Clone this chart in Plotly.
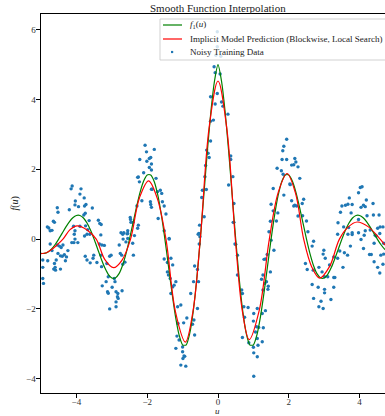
import plotly.graph_objects as go

# ---------------- data ----------------
U_TRUE = [round(-5 + 0.1 * i, 1) for i in range(101)]
F1_TRUE = [-0.411, -0.410, -0.367, -0.280, -0.155, 0.000, 0.171, 0.343, 0.496, 0.612,
           0.677, 0.677, 0.605, 0.462, 0.255, 0.000, -0.282, -0.564, -0.817, -1.009,
           -1.116, -1.116, -0.998, -0.762, -0.421, 0.000, 0.465, 0.931, 1.347, 1.664,
           1.839, 1.839, 1.645, 1.257, 0.694, 0.000, -0.767, -1.535, -2.220, -2.743,
           -3.033, -3.032, -2.711, -2.072, -1.145, 0.000, 1.265, 2.530, 3.660, 4.523,
           5.000,
           4.523, 3.660, 2.530, 1.265, 0.000, -1.145, -2.072, -2.711, -3.032, -3.033,
           -2.743, -2.220, -1.535, -0.767, 0.000, 0.694, 1.257, 1.645, 1.839, 1.839,
           1.664, 1.347, 0.931, 0.465, 0.000, -0.421, -0.762, -0.998, -1.116, -1.116,
           -1.009, -0.817, -0.564, -0.282, 0.000, 0.255, 0.462, 0.605, 0.677, 0.677,
           0.612, 0.496, 0.343, 0.171, 0.000, -0.155, -0.280, -0.367, -0.410, -0.411]

U_PRED = [-5.0, -4.85, -4.7, -4.55, -4.38, -4.18, -3.98, -3.71, -3.44, -3.2, -2.95, -2.71,
          -2.47, -2.22, -1.96, -1.72, -1.47, -1.2, -0.92, -0.71, -0.5, -0.25, 0.0, 0.245,
          0.49, 0.685, 0.88, 1.165, 1.45, 1.7, 1.95, 2.185, 2.42, 2.645, 2.87, 3.15, 3.43,
          3.68, 3.93, 4.25, 4.58, 4.75, 5.0]
Y_PRED = [-0.42, -0.39, -0.30, -0.17, 0.0, 0.27, 0.38, 0.27, 0.0, -0.58, -0.82, -0.6,
          0.0, 1.18, 1.67, 1.18, 0.0, -2.09, -2.95, -2.09, 0.0, 3.2, 4.53, 3.2,
          0.0, -2.04, -2.88, -2.04, 0.0, 1.33, 1.88, 1.33, 0.0, -0.79, -1.12, -0.79, 0.0,
          0.35, 0.49, 0.35, 0.0, -0.2, -0.38]

NOISY_PTS = [
    (-4.12, 1.52), (-4.15, 1.44), (-3.87, 1.44), (-3.90, 1.29), (-3.78, 1.18), (-4.03, 1.09),
    (-4.04, 0.98), (-3.73, 0.99), (-3.94, 0.93), (-3.77, 0.95), (-4.54, 0.90), (-4.20, 0.84),
    (-3.55, 0.89), (-4.52, 0.77), (-3.75, 0.74), (-3.79, 0.69), (-4.82, 0.35), (-4.78, 0.32),
    (-4.65, 0.51), (-4.62, 0.48), (-4.74, 0.24), (-4.69, 0.25), (-4.08, 0.37), (-3.90, 0.37),
    (-3.74, 0.38), (-4.04, 0.24), (-3.68, 0.27), (-4.06, 0.14), (-3.38, 0.54), (-3.34, 0.45),
    (-3.30, 0.42), (-3.64, 0.53), (-3.31, 0.12), (-2.74, 0.18), (-2.68, 0.0), (-2.57, 0.15),
    (-2.47, 0.56),
    (-4.04, 0.0), (-4.07, -0.10), (-4.13, -0.10), (-3.96, -0.10), (-3.77, 0.09), (-3.70, 0.14),
    (-3.62, 0.14), (-4.74, -0.14), (-4.54, -0.17), (-4.48, -0.20), (-4.38, -0.17), (-4.43, -0.24),
    (-4.95, -0.60), (-4.81, -0.62), (-4.95, -0.81), (-4.95, -1.13), (-4.93, -1.27), (-4.69, -0.33),
    (-4.52, -0.41), (-4.45, -0.48), (-4.57, -0.60), (-4.62, -0.70), (-4.60, -0.81), (-4.64, -0.86),
    (-4.59, -0.89), (-4.45, -0.86), (-4.40, -0.49), (-4.34, -0.45), (-4.28, -0.51), (-4.31, -0.62),
    (-4.24, -0.33), (-3.75, -0.49), (-3.70, -0.60), (-3.61, -0.68), (-3.51, -0.46), (-3.53, -0.55),
    (-3.42, -0.67), (-3.35, -0.14), (-3.28, -0.17), (-3.21, -0.18), (-3.30, -0.46), (-3.29, -0.79),
    (-3.14, -0.70), (-3.06, -0.49), (-3.02, -0.46), (-3.10, -1.08), (-2.93, -1.13), (-2.91, -1.22),
    (-3.16, -1.22), (-3.27, -1.34), (-3.12, -1.51), (-3.10, -1.55), (-2.99, -1.38), (-2.88, -1.51),
    (-2.83, -1.56), (-2.84, -1.65), (-2.82, -1.70), (-2.88, -1.80), (-2.88, -1.94), (-3.06, -2.00),
    (-2.79, -0.17), (-2.76, -0.41), (-2.72, -0.46), (-2.69, -0.72), (-2.63, -0.66), (-2.60, -0.08),
    (-2.55, 0.16), (-2.41, -0.12),
    (-2.06, 2.69), (-2.02, 2.50), (-1.80, 2.57), (-2.21, 2.28), (-1.94, 2.31), (-1.90, 2.34),
    (-2.01, 2.23), (-1.88, 2.15), (-1.94, 2.05), (-1.88, 1.98), (-2.10, 1.90), (-2.27, 1.77),
    (-2.25, 1.78), (-2.22, 1.64), (-1.75, 1.74), (-1.88, 1.43), (-1.86, 1.43), (-1.63, 1.40),
    (-1.59, 1.31), (-1.71, 1.36), (-2.15, 1.10), (-2.29, 0.95), (-1.90, 0.99), (-1.91, 1.07),
    (-1.88, 0.91), (-1.57, 1.07), (-1.52, 0.95), (-1.47, 0.72), (-1.69, 0.59), (-2.48, 0.62),
    (-2.46, 0.48), (-2.40, 0.48), (-2.25, 0.40), (-2.27, 0.31), (-2.55, 0.24), (-2.66, 0.18),
    (-1.38, 0.0),
    (-0.02, 5.94), (-0.02, 5.51), (-0.06, 5.27), (0.08, 5.24),
    (-0.11, 4.94), (-0.08, 4.77), (0.06, 4.73), (-0.02, 4.17), (-0.21, 4.08), (-0.08, 3.87),
    (0.10, 3.93), (0.14, 3.81), (0.28, 3.58), (-0.21, 3.38), (-0.13, 3.41), (-0.21, 2.81),
    (-0.32, 2.55), (-0.28, 2.46), (-0.25, 2.34), (0.36, 2.38), (0.36, 2.28), (-0.35, 2.11),
    (-0.37, 1.79), (0.42, 1.79), (-0.44, 1.40), (-0.33, 1.42), (-0.46, 1.19), (0.30, 1.55),
    (0.45, 1.02), (-0.39, 0.64), (-0.52, 0.40), (-0.54, 0.16), (0.43, 0.48), (0.45, 0.48),
    (-2.69, 0.14), (-2.55, 0.02), (-2.36, 0.10), (-2.39, -0.46), (-2.71, -1.48), (-1.52, 0.24),
    (-1.38, 0.02), (-1.52, -0.57), (-1.43, -0.67), (-1.33, -0.55), (-1.28, -0.74), (-1.43, -0.94),
    (-1.40, -1.03), (-1.35, -1.13), (-1.19, -1.22), (-1.24, -1.32), (-1.28, -1.37), (-1.33, -1.56),
    (-1.14, -1.94), (-1.05, -1.89), (-1.13, -2.42), (-0.97, -2.40), (-0.88, -2.26), (-1.16, -2.78),
    (-1.10, -2.89), (-1.19, -3.13), (-1.00, -3.09), (-1.00, -3.23), (-0.96, -3.35), (-0.94, -3.36),
    (-0.99, -3.42), (-1.05, -3.61), (-0.91, -3.64), (-0.72, -2.44), (-0.68, -2.32), (-0.66, -2.75),
    (-0.77, -1.56), (-0.58, -1.99), (-0.69, -1.22), (-0.55, -1.22), (-0.66, -0.77), (-0.58, -0.87),
    (-0.56, 0.14), (-0.51, 0.07), (-0.53, -0.14),
    (0.48, -0.14), (0.50, -0.15), (0.55, -0.46), (0.55, -1.03), (0.67, -1.46), (0.69, -1.56),
    (0.73, -1.94), (0.75, -2.24), (0.85, -1.96), (0.69, -2.82), (0.87, -2.97), (1.00, -3.10),
    (1.01, -3.26), (1.11, -3.37), (1.01, -3.93), (1.01, -2.13), (1.06, -2.66), (1.11, -1.99),
    (1.94, 2.86), (1.86, 2.66), (1.83, 2.53), (1.81, 2.28), (1.94, 2.28), (2.17, 2.31),
    (2.20, 2.21), (2.08, 2.12), (2.14, 2.13), (2.26, 2.07), (1.67, 2.03), (1.79, 1.96),
    (1.84, 1.86), (2.31, 1.74), (2.03, 1.58), (2.04, 1.56), (1.56, 1.45), (1.86, 1.26),
    (2.08, 1.10), (2.17, 0.97), (2.22, 0.95), (2.14, 0.95), (2.42, 1.14), (2.38, 1.02),
    (1.50, 1.00), (1.56, 0.81), (1.69, 0.75), (2.26, 0.66), (2.39, 0.67), (1.48, 0.51),
    (1.65, 0.52), (2.50, 0.52), (1.44, 0.21), (2.54, 0.21),
    (4.02, 1.48), (4.07, 1.50), (3.97, 1.33), (3.71, 1.18), (3.50, 0.95), (3.60, 0.97),
    (3.67, 1.00), (3.79, 0.99), (4.11, 0.97), (4.16, 0.93), (4.19, 1.12), (4.38, 1.02),
    (3.46, 0.77), (3.76, 0.75), (4.04, 0.91), (4.21, 0.67), (4.39, 0.69), (4.55, 0.69),
    (3.39, 0.47), (3.97, 0.56), (3.55, 0.35), (3.69, 0.33), (3.97, 0.18), (4.16, 0.24),
    (4.30, 0.26), (4.51, 0.31), (4.58, 0.35), (4.66, 0.35), (3.38, 0.14), (3.79, 0.13),
    (4.57, 0.16),
    (1.50, -0.03), (1.58, -0.32), (1.39, -0.44), (1.34, -0.57), (1.30, -0.58), (1.48, -0.94),
    (1.37, -1.22), (1.42, -1.35), (1.41, -1.44), (1.32, -1.27), (1.27, -1.03), (1.23, -1.15),
    (1.27, -1.46), (1.34, -2.05), (1.25, -2.13), (1.00, -2.35), (1.09, -2.51), (1.15, -2.53),
    (1.28, -2.54), (1.11, -2.85), (1.25, -2.94), (1.13, -3.04),
    (2.47, -0.70), (2.70, -0.06), (2.66, -0.20), (2.52, -0.87), (2.69, -0.89), (2.85, -0.81),
    (2.99, -0.32), (2.97, -0.43), (3.03, -0.55), (2.94, -0.94), (3.01, -1.08), (3.10, -1.08),
    (3.27, -1.10), (3.30, -1.10), (2.66, -1.30), (2.83, -1.38), (3.01, -1.44), (3.01, -1.54),
    (3.27, -1.38), (2.70, -1.70), (2.91, -1.78), (3.19, -1.73), (2.85, -1.94), (2.97, -1.99),
    (3.15, -0.74), (3.27, -0.51), (3.38, -0.55), (3.44, -0.34), (3.53, -0.81), (3.57, -0.39),
    (3.66, -0.46), (3.74, -0.20), (3.67, 0.14), (3.79, 0.18), (4.04, -0.01), (4.13, 0.11),
    (4.11, -0.27), (4.28, -0.44), (4.33, -0.44), (4.41, -0.65), (4.51, -0.81), (4.57, -0.97),
    (4.60, -0.46), (4.68, -0.43), (4.41, -0.12), (4.44, 0.11), (4.47, 0.09), (4.68, -0.12),
    (4.66, -0.72),
]
NOISY_U = [p[0] for p in NOISY_PTS]
NOISY_Y = [p[1] for p in NOISY_PTS]

X_TICKS = [-4, -2, 0, 2, 4]
Y_TICKS = [-4, -2, 0, 2, 4, 6]

TITLE = "Smooth Function Interpolation"
LEGEND_LABELS = ["<i>f</i><sub>1</sub>(<i>u</i>)",
                 "Implicit Model Prediction (Blockwise, Local Search)",
                 "Noisy Training Data"]

# ---------------- layout geometry ----------------
W, H = 385, 416
L, R, T, B = 41, 0, 14, 23
PW, PH = W - L - R, H - T - B
FONT = "Liberation Serif, 'Times New Roman', serif"


def px(x):
    return (x - L) / PW


def py(y):
    return (H - B - y) / PH


fig = go.Figure()
fig.add_trace(go.Scatter(x=NOISY_U, y=NOISY_Y, mode="markers",
                         marker=dict(color="#1f77b4", size=3.4, line=dict(width=0)),
                         showlegend=False, hoverinfo="skip"))
fig.add_trace(go.Scatter(x=U_TRUE, y=F1_TRUE, mode="lines",
                         line=dict(color="green", width=1.2, shape="spline", smoothing=0.6),
                         showlegend=False))
fig.add_trace(go.Scatter(x=U_PRED, y=Y_PRED, mode="lines",
                         line=dict(color="red", width=1.2, shape="spline", smoothing=1.0),
                         showlegend=False))

axis_common = dict(showgrid=False, zeroline=False, showline=True, linecolor="black",
                   linewidth=1.1, ticks="outside", ticklen=3.5, tickwidth=0.8,
                   tickcolor="black", tickfont=dict(family=FONT, size=9, color="#333"))
fig.update_xaxes(range=[-5, (W - L) / 35.4 - 5], tickvals=X_TICKS, mirror=True,
                 ticklabelstandoff=-3, **axis_common)
fig.update_yaxes(range=[-4.41, 6.45], tickvals=Y_TICKS, mirror=False,
                 ticklabelstandoff=-1, **axis_common)

shapes = []
annotations = []
# legend frame
shapes.append(dict(type="rect", xref="paper", yref="paper", x0=px(160), x1=px(400),
                   y0=py(60), y1=py(19), line=dict(color="#cccccc", width=0.9),
                   fillcolor="rgba(255,255,255,0.8)", layer="above"))
shapes.append(dict(type="line", xref="paper", yref="paper", x0=px(163), x1=px(182),
                   y0=py(25), y1=py(25), line=dict(color="green", width=1.2), layer="above"))
shapes.append(dict(type="line", xref="paper", yref="paper", x0=px(163), x1=px(182),
                   y0=py(39), y1=py(39), line=dict(color="red", width=1.2), layer="above"))
shapes.append(dict(type="rect", xref="paper", yref="paper", x0=px(171), x1=px(173.2),
                   y0=py(53.1), y1=py(50.9), line=dict(width=0), fillcolor="#1f77b4",
                   layer="above"))
for lab, yy in zip(LEGEND_LABELS, [25, 39, 52]):
    annotations.append(dict(text=lab, xref="paper", yref="paper", x=px(188), y=py(yy),
                            xanchor="left", yanchor="middle", showarrow=False,
                            font=dict(family=FONT, size=9.05, color="#222")))
# title and axis labels
annotations.append(dict(text=TITLE, xref="paper", yref="paper", x=px(217.5), y=py(7.5),
                        xanchor="center", yanchor="middle", showarrow=False,
                        font=dict(family=FONT, size=11, color="#222")))
annotations.append(dict(text="<i>u</i>", xref="paper", yref="paper", x=px(217.5), y=py(411),
                        xanchor="center", yanchor="middle", showarrow=False,
                        font=dict(family=FONT, size=9, color="#222")))
annotations.append(dict(text="<i>f</i>(<i>u</i>)", xref="paper", yref="paper", x=px(14),
                        y=py(203.5), xanchor="center", yanchor="middle", showarrow=False,
                        textangle=-90, font=dict(family=FONT, size=10, color="#222")))

fig.update_layout(width=W, height=H, autosize=False,
                  margin=dict(l=L, r=R, t=T, b=B, pad=0),
                  paper_bgcolor="white", plot_bgcolor="white",
                  shapes=shapes, annotations=annotations, showlegend=False)

fig.write_html("out.html", config={"displayModeBar": False},
               post_script="document.body.style.margin='0';document.body.style.overflow='hidden';")
